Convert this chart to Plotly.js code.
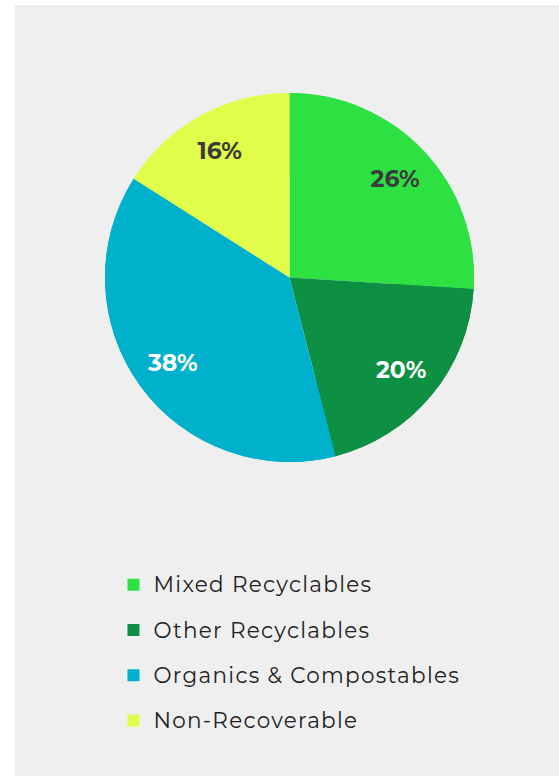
<!DOCTYPE html>
<html>
<head>
<meta charset="utf-8">
<script src="https://cdn.plot.ly/plotly-3.0.1.min.js"></script>
<style>
  html, body { margin: 0; padding: 0; background: #ffffff; }
  #chart { position: absolute; left: 15px; top: 5px; width: 544px; height: 771px; }
</style>
</head>
<body>
<div id="chart"></div>
<script>
const categories = ["Mixed Recyclables", "Other Recyclables", "Organics & Compostables", "Non-Recoverable"];
const shares = [26, 20, 38, 16];
const sliceColors = ["#2de143", "#0d8f44", "#00b1cb", "#e2fc4a"];
const labelColors = ["#3b3b3b", "#ffffff", "#ffffff", "#3b3b3b"];

const fontFamily = "Montserrat, 'Open Sans', sans-serif";

const legendNames = categories.map(c =>
  '<span style="font-size:21.5px;letter-spacing:1.3px;baseline-shift:5px">' + c.replace('&', '&amp;') + '</span>');

// full pie (slices)
const basePie = {
  type: 'pie',
  labels: legendNames,
  values: shares,
  sort: false,
  direction: 'clockwise',
  rotation: 0,
  marker: { colors: sliceColors, line: { width: 0 } },
  textinfo: 'none',
  hoverinfo: 'label+percent',
  showlegend: true
};

// same slices as an outer ring, carrying the percentage labels near the rim
const labelRing = {
  type: 'pie',
  labels: legendNames,
  values: shares,
  sort: false,
  direction: 'clockwise',
  rotation: 0,
  hole: 0.57,
  marker: { colors: sliceColors, line: { width: 0 } },
  textinfo: 'percent',
  texttemplate: '%{percent:.0%}',
  textposition: 'inside',
  insidetextorientation: 'horizontal',
  insidetextfont: { family: fontFamily, size: 23.5, color: labelColors, weight: 'bold' },
  hoverinfo: 'skip',
  showlegend: false
};

const layout = {
  width: 544,
  height: 771,
  paper_bgcolor: '#efefef',
  plot_bgcolor: '#efefef',
  margin: { l: 90, r: 85, t: 88, b: 314, autoexpand: false },
  showlegend: true,
  legend: {
    orientation: 'v',
    xref: 'container', yref: 'container',
    x: 0.181, y: 0.284,
    xanchor: 'left', yanchor: 'top',
    font: { family: fontFamily, size: 32.5, color: '#222222' },
    bgcolor: 'rgba(0,0,0,0)'
  }
};

Plotly.newPlot('chart', [basePie, labelRing], layout, { displayModeBar: false, staticPlot: true });
</script>
</body>
</html>
